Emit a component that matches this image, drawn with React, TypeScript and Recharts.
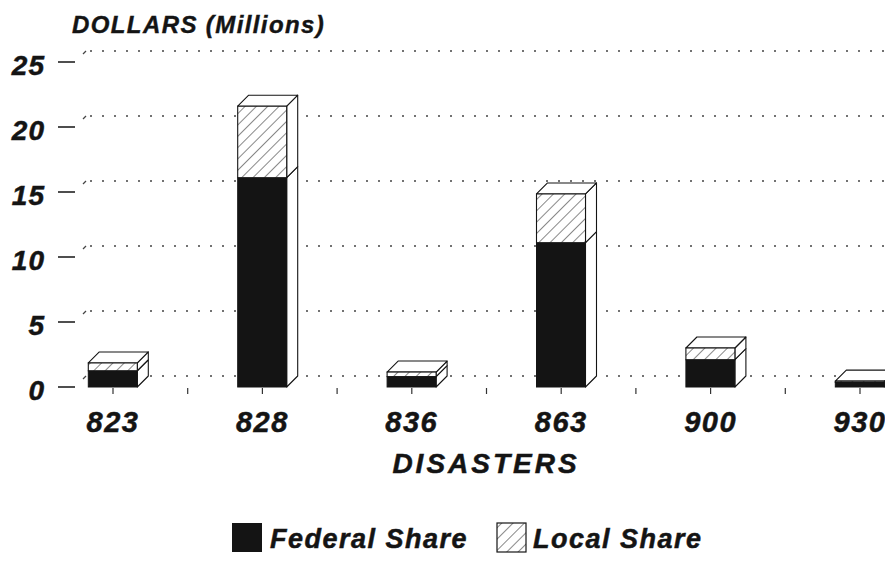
import React from 'react';
import { BarChart, Bar, XAxis, YAxis, CartesianGrid, Legend, Label } from 'recharts';

const disasters = ['823', '828', '836', '863', '900', '930'];
const federalShare = [1.25, 16.1, 0.8, 11.1, 2.1, 0.35];
const localShare = [0.6, 5.5, 0.35, 3.75, 0.9, 0.1];
const yTicks = [0, 5, 10, 15, 20, 25];

const data = disasters.map((name, i) => ({ name, federal: federalShare[i], local: localShare[i] }));

const FONT = '"Liberation Sans", Arial, Helvetica, sans-serif';
const DX = 11;
const DY = 11;
const INK = '#141414';

const sideFace = (x: number, y: number, w: number, h: number) =>
  `${x + w},${y} ${x + w + DX},${y - DY} ${x + w + DX},${y + h - DY} ${x + w},${y + h}`;
const topFace = (x: number, y: number, w: number) =>
  `${x},${y} ${x + DX},${y - DY} ${x + w + DX},${y - DY} ${x + w},${y}`;

const FederalShape = (props: any) => {
  const { x, y, width, height } = props;
  if (!(height > 0)) return null;
  return (
    <g>
      <polygon points={sideFace(x, y, width, height)} fill="#fff" stroke={INK} strokeWidth={1.1} strokeLinejoin="round" />
      <rect x={x} y={y} width={width} height={height} fill={INK} stroke={INK} strokeWidth={1} />
    </g>
  );
};

const LocalShape = (props: any) => {
  const { x, y, width, height } = props;
  const h = Math.max(height || 0, 0);
  return (
    <g>
      <polygon points={sideFace(x, y, width, h)} fill="#fff" stroke={INK} strokeWidth={1.1} strokeLinejoin="round" />
      <polygon points={topFace(x, y, width)} fill="#fff" stroke={INK} strokeWidth={1.1} strokeLinejoin="round" />
      <rect x={x} y={y} width={width} height={h} fill="#fff" />
      <rect x={x} y={y} width={width} height={h} fill="url(#hatchMain)" stroke={INK} strokeWidth={1.1} />
    </g>
  );
};

const GridLine = (props: any) => {
  const { x1, y1, x2 } = props;
  return (
    <g>
      <line x1={x1 + 8} y1={y1 - 8} x2={x1 + DX} y2={y1 - DY} stroke="#444" strokeWidth={1.2} />
      <line x1={x1 + DX + 4} y1={y1 - DY} x2={x2} y2={y1 - DY} stroke="#444" strokeWidth={1.4} strokeDasharray="2 10" />
    </g>
  );
};

const textStyle = {
  fontFamily: FONT,
  fontWeight: 'bold' as const,
  fontStyle: 'italic' as const,
  fill: INK,
  stroke: INK,
  strokeWidth: 0.5,
};

const XTick = (props: any) => {
  const { x, y, payload, index } = props;
  const half = payload && typeof payload.offset === 'number' && payload.offset > 0 ? payload.offset : 74.7;
  return (
    <g>
      <line x1={x} y1={y + 1} x2={x} y2={y + 7} stroke="#333" strokeWidth={1.2} />
      {index > 0 && <line x1={x - half} y1={y + 1} x2={x - half} y2={y + 7} stroke="#333" strokeWidth={1.2} />}
      <text x={x} y={y + 45} textAnchor="middle" fontSize={29} letterSpacing={1.5} {...textStyle}>
        {payload.value}
      </text>
    </g>
  );
};

const YTick = (props: any) => {
  const { x, y, payload } = props;
  return (
    <text x={x} y={y + 13} textAnchor="end" fontSize={28} letterSpacing={1} {...textStyle}>
      {payload.value}
    </text>
  );
};

const LegendContent = () => (
  <svg width={893} height={47} style={{ display: 'block' }}>
    <defs>
      <pattern id="hatchLegend" patternUnits="userSpaceOnUse" width="8" height="8" patternTransform="rotate(45)">
        <line x1="0" y1="0" x2="0" y2="8" stroke={INK} strokeWidth="1" />
      </pattern>
    </defs>
    <rect x={232} y={8} width={30} height={29} fill={INK} />
    <text x={270} y={33} fontSize={27} letterSpacing={1.5} {...textStyle}>
      Federal Share
    </text>
    <rect x={497} y={8} width={29} height={29} fill="#fff" />
    <rect x={497} y={8} width={29} height={29} fill="url(#hatchLegend)" stroke={INK} strokeWidth={1.2} />
    <text x={533} y={33} fontSize={27} letterSpacing={1.5} {...textStyle}>
      Local Share
    </text>
  </svg>
);

const YTitle = (props: any) => {
  const vb = props.viewBox || { x: 0, y: 62, width: 75 };
  return (
    <text x={vb.x + vb.width - 3} y={vb.y - 29} fontSize={24} letterSpacing={1.4} {...textStyle} strokeWidth={0.4}>
      DOLLARS (Millions)
    </text>
  );
};

const XTitle = (props: any) => {
  const vb = props.viewBox || { x: 75, y: 387, width: 818 };
  return (
    <text x={vb.x + vb.width / 2 + 2} y={vb.y + 86} textAnchor="middle" fontSize={28} letterSpacing={3} {...textStyle}>
      DISASTERS
    </text>
  );
};

export default function App() {
  return (
    <div style={{ position: 'relative', width: 893, height: 562, margin: -8, overflow: 'hidden', background: '#fff' }}>
      <BarChart width={893} height={562} data={data} margin={{ top: 62, right: 0, bottom: 135, left: 0 }}>
        <defs>
          <pattern id="hatchMain" patternUnits="userSpaceOnUse" width="8" height="8" patternTransform="rotate(45)">
            <line x1="0" y1="0" x2="0" y2="8" stroke={INK} strokeWidth="1" />
          </pattern>
        </defs>
        <CartesianGrid vertical={false} horizontal={GridLine as any} />
        <XAxis
          dataKey="name"
          height={40}
          axisLine={false}
          tickLine={false}
          tickSize={0}
          tickMargin={0}
          interval={0}
          padding={{ left: -36.7, right: -41.7 }}
          tick={XTick as any}
        >
          <Label content={XTitle as any} />
        </XAxis>
        <YAxis
          width={75}
          domain={[0, 25]}
          ticks={yTicks}
          axisLine={false}
          tickLine={{ stroke: '#222', strokeWidth: 1.6 }}
          tickSize={17}
          tickMargin={13}
          tick={YTick as any}
        >
          <Label content={YTitle as any} />
        </YAxis>
        <Legend
          layout="horizontal"
          verticalAlign="middle"
          align="center"
          wrapperStyle={{ position: 'absolute', top: 515, left: 0, width: 893, height: 47 }}
          content={LegendContent as any}
        />
        <Bar dataKey="federal" name="Federal Share" stackId="a" barSize={49} fill={INK} shape={FederalShape as any} isAnimationActive={false} />
        <Bar dataKey="local" name="Local Share" stackId="a" barSize={49} fill="#fff" shape={LocalShape as any} isAnimationActive={false} />
      </BarChart>
    </div>
  );
}
